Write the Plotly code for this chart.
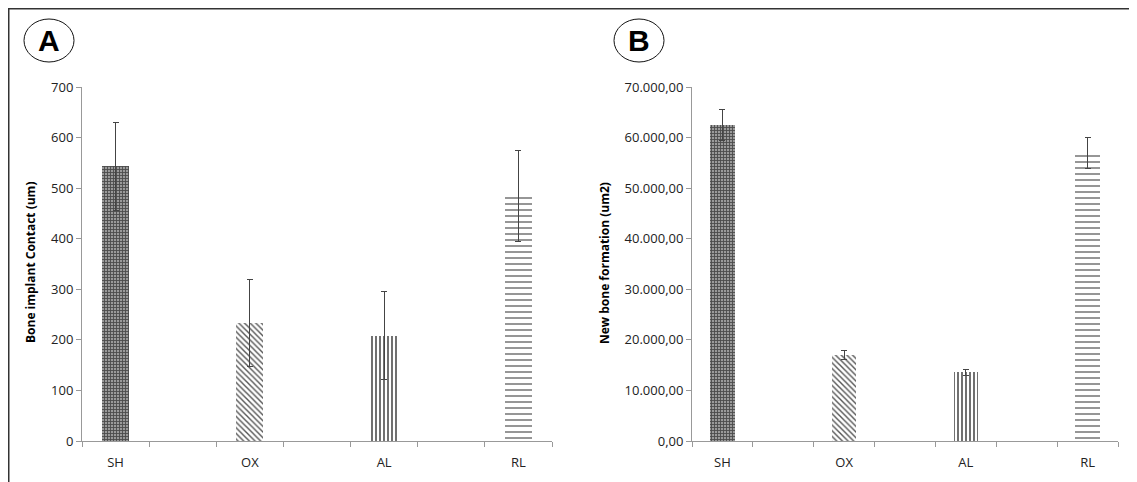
import plotly.graph_objects as go

categories = ["SH", "OX", "AL", "RL"]
positions = [0, 2, 4, 6]

bic_values = [543, 233, 208, 484]
bic_errors = [87, 86, 87, 90]

nbf_values = [62500, 17000, 13600, 57000]
nbf_errors = [3000, 900, 600, 3100]

patterns = [
    dict(shape="+", size=3, solidity=0.5, fgcolor="#4a4a4a", bgcolor="#9a9a9a", fillmode="replace"),
    dict(shape="\\", size=4, solidity=0.35, fgcolor="#555555", bgcolor="white", fillmode="replace"),
    dict(shape="|", size=4, solidity=0.35, fgcolor="#333333", bgcolor="white", fillmode="replace"),
    dict(shape="-", size=6, solidity=0.3, fgcolor="#8a8a8a", bgcolor="white", fillmode="replace"),
]

W, H = 1137, 482
OFF = 8  # page offset of the figure (body margin)


def px(x):
    return (x - OFF) / W


def py(y):
    return 1 - (y - OFF) / H


fig = go.Figure()


def add_bars(values, errors, xa, ya):
    for i in range(len(categories)):
        fig.add_trace(go.Bar(
            x=[positions[i]], y=[values[i]], width=0.4,
            marker=dict(color="white", line=dict(width=0), pattern=patterns[i]),
            error_y=dict(type="data", array=[errors[i]], color="#444444", thickness=1, width=3),
            xaxis=xa, yaxis=ya, showlegend=False, name=categories[i],
        ))


add_bars(bic_values, bic_errors, "x", "y")
add_bars(nbf_values, nbf_errors, "x2", "y2")

ybot = py(441)
ytop = py(87)
font = dict(family="Open Sans, Noto Sans, sans-serif", size=13, color="#222222")

xcommon = dict(
    range=[-0.5, 6.5], tickvals=positions, ticktext=categories, ticks="",
    showline=True, linecolor="#999999", linewidth=1, showgrid=False, zeroline=False,
    minor=dict(ticks="outside", tick0=-0.5, dtick=1, ticklen=5, tickcolor="#999999", showgrid=False),
    tickfont=font, fixedrange=True, automargin=False, ticklabelstandoff=9,
)
ycommon = dict(
    showline=True, linecolor="#999999", linewidth=1, showgrid=False, zeroline=False,
    ticks="outside", ticklen=5, tickcolor="#999999", tickfont=font, automargin=False,
)

fig.update_layout(
    template="none",
    width=W, height=H, margin=dict(l=0, r=0, t=0, b=0, pad=0), autosize=False,
    paper_bgcolor="white", plot_bgcolor="white",
    separators=",.", bargap=0,
    xaxis=dict(domain=[px(82), px(552)], anchor="y", **xcommon),
    yaxis=dict(domain=[ybot, ytop], anchor="x", range=[0, 700], dtick=100, **ycommon),
    xaxis2=dict(domain=[px(692), px(1118)], anchor="y2", **xcommon),
    yaxis2=dict(domain=[ybot, ytop], anchor="x2", range=[0, 70000], dtick=10000,
                tickformat=",.2f", **ycommon),
)

shapes = [
    dict(type="line", xref="paper", yref="paper", x0=px(8), x1=1, y0=py(8.5), y1=py(8.5),
         line=dict(color="#333333", width=2)),
    dict(type="line", xref="paper", yref="paper", x0=px(8.5), x1=px(8.5), y0=0, y1=py(8),
         line=dict(color="#333333", width=2)),
    dict(type="circle", xref="paper", yref="paper", x0=px(24), x1=px(74), y0=py(62), y1=py(19),
         line=dict(color="#111111", width=1)),
    dict(type="circle", xref="paper", yref="paper", x0=px(614), x1=px(664), y0=py(62), y1=py(19),
         line=dict(color="#111111", width=1)),
]
fig.update_layout(shapes=shapes)

annotations = [
    dict(text="<b>A</b>", x=px(49), y=py(41), xref="paper", yref="paper", showarrow=False,
         xanchor="center", yanchor="middle",
         font=dict(family="Liberation Sans, Arial, sans-serif", size=30, color="black")),
    dict(text="<b>B</b>", x=px(639), y=py(41), xref="paper", yref="paper", showarrow=False,
         xanchor="center", yanchor="middle",
         font=dict(family="Liberation Sans, Arial, sans-serif", size=30, color="black")),
    dict(text="<b>Bone implant Contact (um)</b>", x=px(30), y=py(263), xref="paper", yref="paper",
         showarrow=False, textangle=-90, xanchor="center", yanchor="middle",
         font=dict(family="Open Sans, Noto Sans, sans-serif", size=12, color="black")),
    dict(text="<b>New bone formation (um2)</b>", x=px(604), y=py(263), xref="paper", yref="paper",
         showarrow=False, textangle=-90, xanchor="center", yanchor="middle",
         font=dict(family="Open Sans, Noto Sans, sans-serif", size=12, color="black")),
]
fig.update_layout(annotations=annotations)

fig.write_html("out.html")
